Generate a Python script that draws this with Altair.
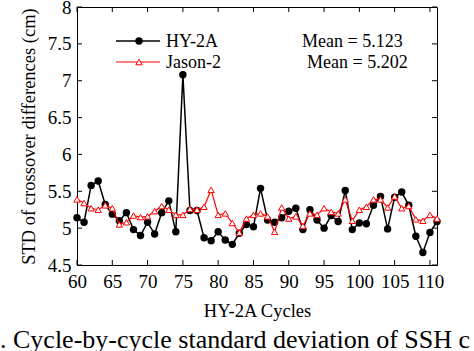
import altair as alt
import pandas as pd

# ---------------- data ----------------
cycles = list(range(60, 112))
hy2a = [5.14, 5.08, 5.58, 5.64, 5.32, 5.19, 5.10, 5.21, 4.98, 4.90,
        5.08, 4.92, 5.21, 5.37, 4.95, 7.08, 5.24, 5.24, 4.87, 4.83,
        4.95, 4.84, 4.78, 4.93, 5.05, 5.02, 5.54, 5.11, 5.08, 5.14,
        5.23, 5.27, 4.98, 5.25, 5.11, 5.00, 5.17, 5.09, 5.51, 4.98,
        5.07, 5.06, 5.31, 5.43, 4.99, 5.42, 5.49, 5.31, 4.89, 4.67, 4.94, 5.09]
jason2 = [5.39, 5.34, 5.27, 5.25, 5.31, 5.27, 5.05, 5.08, 5.17, 5.15,
          5.16, 5.23, 5.30, 5.25, 5.18, 5.18, 5.26, 5.25, 5.29, 5.52,
          5.18, 5.20, 5.07, 4.94, 5.13, 5.18, 5.20, 5.16, 4.95, 5.28,
          5.13, 5.16, 5.03, 5.20, 5.18, 5.27, 5.22, 5.20, 5.39, 5.10,
          5.25, 5.29, 5.39, 5.39, 5.28, 5.43, 5.27, 5.30, 5.12, 5.10, 5.18, 5.13]
series_names = ["HY-2A", "Jason-2"]
mean_labels = ["Mean = 5.123", "Mean = 5.202"]
x_ticks = [60, 65, 70, 75, 80, 85, 90, 95, 100, 105, 110]
y_ticks = [4.5, 5, 5.5, 6, 6.5, 7, 7.5, 8]
x_domain = [60, 111]
y_domain = [4.5, 8]
x_title = "HY-2A Cycles"
y_title = "STD of crossover differences (cm)"
caption = ". Cycle-by-cycle standard deviation of SSH c"

FONT = "Liberation Serif"

df = pd.DataFrame({"cycle": cycles, "hy": hy2a, "ja": jason2})

xscale = alt.Scale(domain=x_domain, nice=False, zero=False)
yscale = alt.Scale(domain=y_domain, nice=False, zero=False)

x_axis = alt.Axis(values=x_ticks, title=x_title, grid=False, ticks=False, domain=False,
                  labelFont=FONT, labelFontSize=19, labelColor="black", labelPadding=7,
                  labelFlush=False, labelOverlap=False,
                  titleFont=FONT, titleFontSize=18.5, titleFontWeight="normal",
                  titleColor="black", titlePadding=10)
y_axis = alt.Axis(values=y_ticks, title=y_title, grid=False, ticks=False, domain=False,
                  format="~g", labelFont=FONT, labelFontSize=19, labelColor="black",
                  labelPadding=6, labelFlush=False, labelOverlap=False,
                  titleFont=FONT, titleFontSize=18.5, titleFontWeight="normal",
                  titleColor="black", titlePadding=9)


def X(field):
    return alt.X(field, scale=xscale, axis=x_axis, title=x_title)


def Y(field):
    return alt.Y(field, scale=yscale, axis=y_axis, title=y_title)


base = alt.Chart(df)

hy_line = base.mark_line(color="black", strokeWidth=1.5).encode(x=X("cycle:Q"), y=Y("hy:Q"))
hy_pts = base.mark_point(shape="circle", filled=True, color="black", size=55, opacity=1).encode(
    x=X("cycle:Q"), y=Y("hy:Q"))
ja_line = base.mark_line(color="red", strokeWidth=1.2).encode(x=X("cycle:Q"), y=Y("ja:Q"))
ja_pts = base.mark_point(shape="triangle-up", filled=True, fill="white", stroke="red",
                         strokeWidth=1, size=40, opacity=1).encode(x=X("cycle:Q"), y=Y("ja:Q"))

# inward ticks on all four sides
xt = pd.DataFrame({"t": x_ticks, "lo": y_domain[0], "hi": y_domain[1]})
yt = pd.DataFrame({"t": y_ticks, "lo": x_domain[0], "hi": x_domain[1]})
tick_style = dict(size=5, thickness=1, color="black", opacity=1)
bottom_ticks = alt.Chart(xt).mark_tick(orient="vertical", yOffset=-2.5, **tick_style).encode(
    x=X("t:Q"), y=Y("lo:Q"))
top_ticks = alt.Chart(xt).mark_tick(orient="vertical", yOffset=2.5, **tick_style).encode(
    x=X("t:Q"), y=Y("hi:Q"))
left_ticks = alt.Chart(yt).mark_tick(orient="horizontal", xOffset=2.5, **tick_style).encode(
    y=Y("t:Q"), x=X("lo:Q"))
right_ticks = alt.Chart(yt).mark_tick(orient="horizontal", xOffset=-2.5, **tick_style).encode(
    y=Y("t:Q"), x=X("hi:Q"))

# legend (inside the plot)
one = pd.DataFrame({"name": [series_names[0]], "mean": [mean_labels[0]]})
two = pd.DataFrame({"name": [series_names[1]], "mean": [mean_labels[1]]})
leg_y1, leg_y2 = 34, 55
txt_style = dict(font=FONT, fontSize=18, align="left", baseline="middle", color="black")
leg1_line = alt.Chart(one).mark_rule(color="black", strokeWidth=1.5).encode(
    x=alt.value(39), x2=alt.value(83), y=alt.value(leg_y1))
leg1_pt = alt.Chart(one).mark_point(shape="circle", filled=True, color="black", size=55, opacity=1).encode(
    x=alt.value(62), y=alt.value(leg_y1))
leg1_txt = alt.Chart(one).mark_text(**txt_style).encode(
    x=alt.value(89), y=alt.value(leg_y1 + 1), text="name:N")
leg1_mean = alt.Chart(one).mark_text(**txt_style).encode(
    x=alt.value(225), y=alt.value(leg_y1 + 1), text="mean:N")
leg2_line = alt.Chart(two).mark_rule(color="red", strokeWidth=1.2).encode(
    x=alt.value(39), x2=alt.value(83), y=alt.value(leg_y2))
leg2_pt = alt.Chart(two).mark_point(shape="triangle-up", filled=True, fill="white", stroke="red",
                                    strokeWidth=1, size=40, opacity=1).encode(
    x=alt.value(62), y=alt.value(leg_y2))
leg2_txt = alt.Chart(two).mark_text(**txt_style).encode(
    x=alt.value(89), y=alt.value(leg_y2 + 1), text="name:N")
leg2_mean = alt.Chart(two).mark_text(**txt_style).encode(
    x=alt.value(230), y=alt.value(leg_y2 + 1), text="mean:N")

cap = alt.Chart(pd.DataFrame({"c": [caption]})).mark_text(
    font=FONT, fontSize=26, align="left", baseline="alphabetic", color="black").encode(
    x=alt.value(-77), y=alt.value(341), text="c:N")

chart = alt.layer(
    hy_line, hy_pts, ja_line, ja_pts,
    bottom_ticks, top_ticks, left_ticks, right_ticks,
    leg1_line, leg1_pt, leg1_txt, leg1_mean,
    leg2_line, leg2_pt, leg2_txt, leg2_mean,
    cap,
).properties(
    width=360, height=258,
    padding={"left": 77, "top": 7, "right": 37, "bottom": 86},
    autosize=alt.AutoSizeParams(type="none"),
    background="white",
).configure_view(stroke="black", strokeWidth=1)

chart.save("out.html", embed_options={"renderer": "svg", "actions": False})
